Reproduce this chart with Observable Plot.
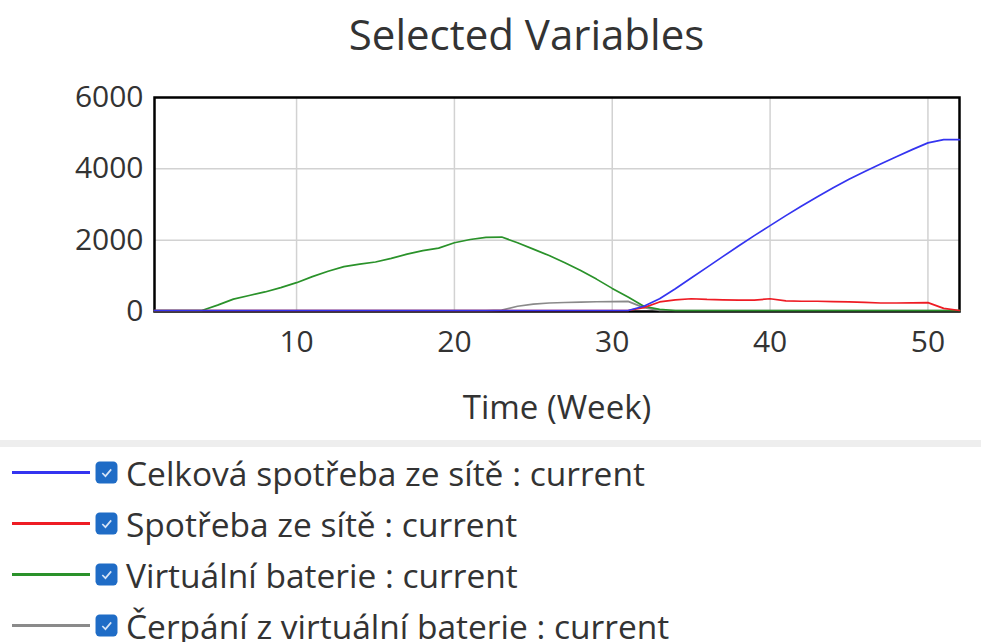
<!DOCTYPE html>
<html>
<head>
<meta charset="utf-8">
<script src="https://cdn.jsdelivr.net/npm/d3@7"></script>
<script src="https://cdn.jsdelivr.net/npm/@observablehq/plot@0.6"></script>
<style>
  html, body { margin: 0; padding: 0; background: #fff; }
  body { width: 981px; height: 642px; overflow: hidden; font-family: "Open Sans", sans-serif; color: #333; }
  #title { height: 68px; line-height: 68px; text-align: center; font-size: 42px; padding-left: 72px; box-sizing: border-box; }
  #chart { height: 370px; }
  #sep { margin-top: 2px; height: 7px; background: #eeeeee; }
  .row { height: 51px; line-height: 46px; display: flex; align-items: center; font-size: 33.5px; white-space: nowrap; }
  .sw { width: 78px; height: 3px; margin-left: 12px; margin-right: 5px; flex: none; }
  .cb { width: 23px; height: 23px; margin-right: 8px; flex: none; }
</style>
</head>
<body>
<div id="title">Selected Variables</div>
<div id="chart"></div>
<div id="sep"></div>
<div id="legend"></div>
<script>
const weeks = [1,2,3,4,5,6,7,8,9,10,11,12,13,14,15,16,17,18,19,20,21,22,23,24,25,26,
  27,28,29,30,31,32,33,34,35,36,37,38,39,40,41,42,43,44,45,46,47,48,49,50,51,52];

const seriesNames = [
  "Celková spotřeba ze sítě : current",
  "Spotřeba ze sítě : current",
  "Virtuální baterie : current",
  "Čerpání z virtuální baterie : current"
];
const seriesColors = ["#3434f0", "#ee1c24", "#2a922a", "#8a8a8a"];

const celkovaSpotreba = [0,0,0,0,0,0,0,0,0,0,0,0,0,0,0,0,0,0,0,0,0,0,0,0,0,0,
  0,0,0,0,0,120,330,610,910,1210,1510,1810,2100,2380,2660,2930,3190,3440,3680,3900,4110,4310,4510,4700,4790,4790];
const spotrebaZeSite = [0,0,0,0,0,0,0,0,0,0,0,0,0,0,0,0,0,0,0,0,0,0,0,0,0,0,
  0,0,0,0,0,80,240,300,330,310,300,290,290,330,270,260,260,250,240,230,210,210,215,220,60,0];
const virtualniBaterie = [0,0,0,0,150,320,420,520,640,780,950,1100,1230,1300,1360,1460,1580,1680,1750,1900,1990,2050,2060,1900,1720,1540,
  1340,1120,880,620,380,120,30,0,0,0,0,0,0,0,0,0,0,0,0,0,0,0,0,0,0,0];
const cerpani = [0,0,0,0,0,0,0,0,0,0,0,0,0,0,0,0,0,0,0,0,0,0,10,120,180,210,
  225,235,245,250,255,80,0,0,0,0,0,0,0,0,0,0,0,0,0,0,0,0,0,0,0,0];

const seriesValues = [celkovaSpotreba, spotrebaZeSite, virtualniBaterie, cerpani];
const xTicks = [10, 20, 30, 40, 50];
const yTicks = [0, 2000, 4000, 6000];
const xLabel = "Time (Week)";

const tables = seriesValues.map(vals => weeks.map((w, i) => ({week: w, value: vals[i]})));
// draw order: gray, green, red, blue (blue on top)
const drawOrder = [3, 2, 1, 0];

const chart = Plot.plot({
  width: 981,
  height: 370,
  marginLeft: 154,
  marginRight: 22,
  marginTop: 29,
  marginBottom: 127,
  style: {fontFamily: "Open Sans", fontSize: "30px", color: "#333", background: "white", overflow: "visible"},
  x: {domain: [1, 52]},
  y: {domain: [0, 6000]},
  marks: [
    Plot.gridX(xTicks, {stroke: "#d2d2d2", strokeOpacity: 1, strokeWidth: 1.5}),
    Plot.gridY(yTicks, {stroke: "#d2d2d2", strokeOpacity: 1, strokeWidth: 1.5}),
    Plot.frame({stroke: "black", strokeWidth: 2.5}),
    ...drawOrder.map(k => Plot.line(tables[k], {x: "week", y: "value", stroke: seriesColors[k], strokeWidth: 1.7, dy: -1})),
    Plot.axisX(xTicks, {tickSize: 0, tickPadding: 19, label: null, fontSize: 30}),
    Plot.axisY(yTicks, {tickSize: 0, tickPadding: 11, label: null, fontSize: 30, tickFormat: d => String(d)}),
    Plot.text([xLabel], {frameAnchor: "bottom", dy: 97, lineAnchor: "middle", fontSize: 33, fill: "#333"})
  ]
});
document.getElementById("chart").appendChild(chart);

const legend = document.getElementById("legend");
seriesNames.forEach((name, k) => {
  const row = document.createElement("div");
  row.className = "row";
  row.innerHTML = `<div class="sw" style="background:${seriesColors[k]}"></div>
    <svg class="cb" viewBox="0 0 22 22"><rect x="0.5" y="0.5" width="21" height="21" rx="4" fill="#1f6cc6"/>
    <path d="M7 11.5 L10 14.5 L15.5 8" fill="none" stroke="#d6e4f7" stroke-width="1.6"/></svg>
    <span>${name}</span>`;
  legend.appendChild(row);
});
</script>
</body>
</html>
